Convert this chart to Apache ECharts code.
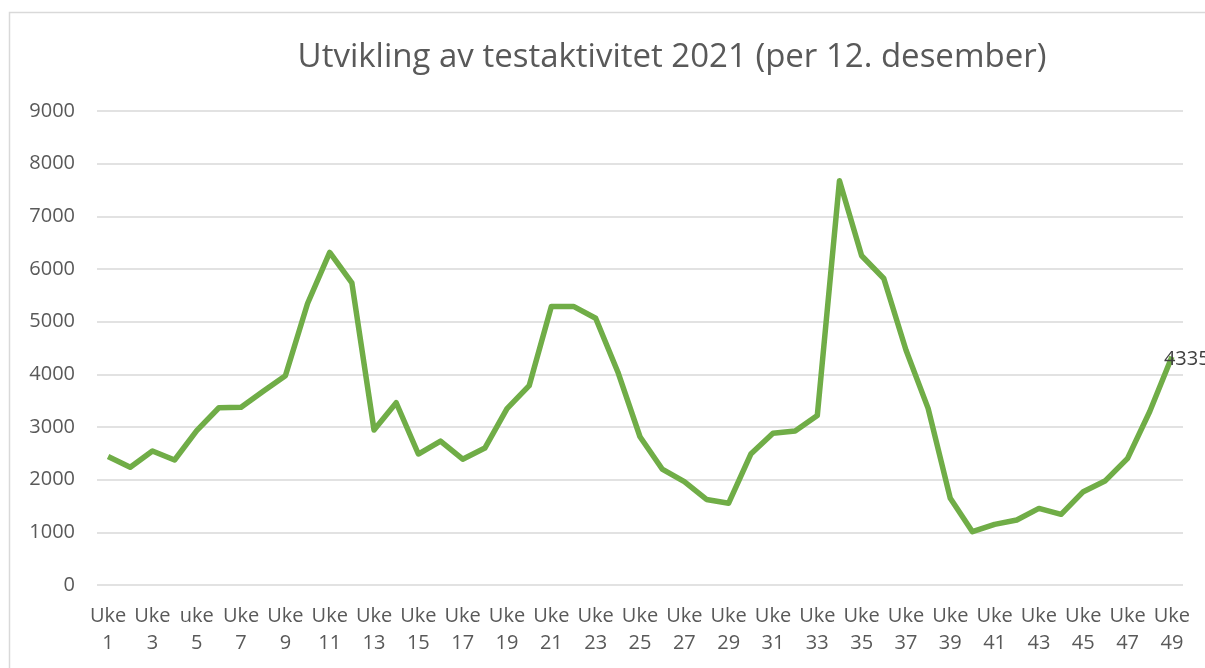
<!DOCTYPE html>
<html>
<head>
<meta charset="utf-8">
<script src="https://cdn.jsdelivr.net/npm/echarts@6/dist/echarts.min.js"></script>
<style>
  html, body { margin: 0; padding: 0; background: #fff; }
  #chart { width: 1205px; height: 668px; }
</style>
</head>
<body>
<div id="chart"></div>
<script>
const chartTitle = "Utvikling av testaktivitet 2021 (per 12. desember)";

const weeks = [
  "Uke 1", "Uke 2", "Uke 3", "Uke 4", "uke 5", "Uke 6", "Uke 7", "Uke 8", "Uke 9", "Uke 10",
  "Uke 11", "Uke 12", "Uke 13", "Uke 14", "Uke 15", "Uke 16", "Uke 17", "Uke 18", "Uke 19", "Uke 20",
  "Uke 21", "Uke 22", "Uke 23", "Uke 24", "Uke 25", "Uke 26", "Uke 27", "Uke 28", "Uke 29", "Uke 30",
  "Uke 31", "Uke 32", "Uke 33", "Uke 34", "Uke 35", "Uke 36", "Uke 37", "Uke 38", "Uke 39", "Uke 40",
  "Uke 41", "Uke 42", "Uke 43", "Uke 44", "Uke 45", "Uke 46", "Uke 47", "Uke 48", "Uke 49"
];

const tests = [
  2440, 2235, 2545, 2373, 2930, 3366, 3376, 3680, 3974, 5345,
  6315, 5735, 2943, 3461, 2487, 2734, 2388, 2600, 3350, 3785,
  5290, 5290, 5065, 4045, 2815, 2202, 1962, 1625, 1553, 2487,
  2882, 2924, 3220, 7677, 6252, 5820, 4462, 3354, 1646, 1013,
  1152, 1234, 1454, 1342, 1772, 1981, 2405, 3295, 4335
];

const yMin = 0;
const yMax = 9000;
const yStep = 1000;

const chart = echarts.init(document.getElementById("chart"));

const option = {
  animation: false,
  textStyle: { fontFamily: "Open Sans" },
  title: {
    text: chartTitle,
    left: 667,
    top: 36,
    textAlign: "center",
    textStyle: {
      fontFamily: "Open Sans",
      fontSize: 33,
      fontWeight: "normal",
      color: "#595959",
    },
  },
  graphic: [
    {
      type: "rect",
      silent: true,
      shape: { x: 9.5, y: 12.5, width: 1300, height: 700 },
      style: { fill: "none", stroke: "#d9d9d9", lineWidth: 1.5 },
    },
  ],
  grid: {
    left: 97,
    right: 22,
    top: 111,
    bottom: 83,
  },
  xAxis: {
    type: "category",
    data: weeks,
    boundaryGap: true,
    axisLine: { show: false },
    axisTick: { show: false },
    axisLabel: {
      interval: 1,
      margin: 18,
      fontSize: 20,
      lineHeight: 27,
      color: "#595959",
      fontFamily: "Open Sans",
      formatter: (v) => v.replace(" ", "\n"),
    },
  },
  yAxis: {
    type: "value",
    min: yMin,
    max: yMax,
    interval: yStep,
    axisLine: { show: false },
    axisTick: { show: false },
    axisLabel: {
      margin: 22,
      fontSize: 20,
      color: "#595959",
      fontFamily: "Open Sans",
      formatter: (v) => String(v),
    },
    splitLine: {
      lineStyle: { color: "#d9d9d9", width: 1.5 },
    },
  },
  series: [
    {
      type: "line",
      data: tests,
      showSymbol: false,
      symbol: "none",
      smooth: false,
      lineStyle: { color: "#70ad47", width: 5.5, join: "round" },
      itemStyle: { color: "#70ad47" },
      endLabel: {
        show: true,
        distance: -8,
        offset: [0, 3],
        fontSize: 20,
        color: "#404040",
        fontFamily: "Open Sans",
        formatter: (p) => String(p.value),
      },
    },
  ],
};

chart.setOption(option);
</script>
</body>
</html>
